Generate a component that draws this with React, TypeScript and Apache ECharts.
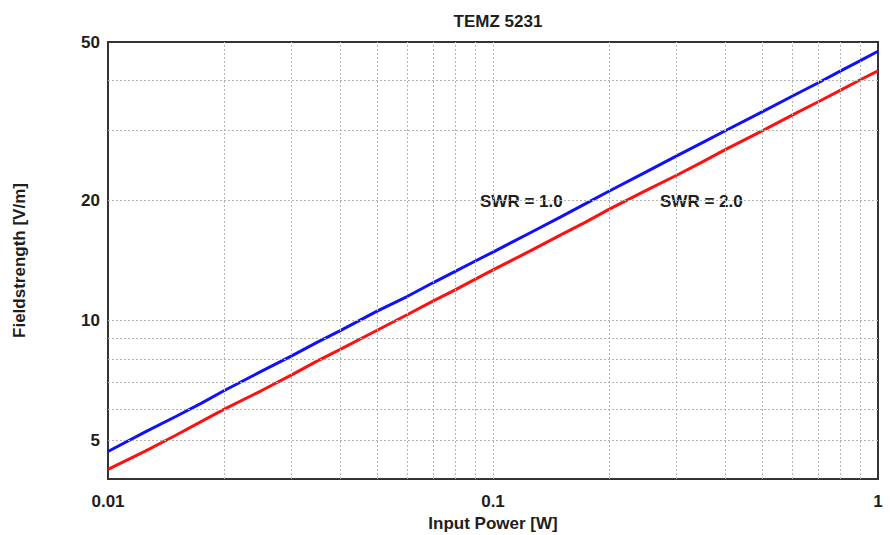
import React, { useEffect, useRef } from 'react';
import * as echarts from 'echarts';

const power = [0.01, 0.0125, 0.015, 0.0175, 0.02, 0.025, 0.03, 0.035, 0.04, 0.05, 0.06, 0.07, 0.08, 0.09, 0.1, 0.125, 0.15, 0.175, 0.2, 0.25, 0.3, 0.35, 0.4, 0.5, 0.6, 0.7, 0.8, 0.9, 1.0];
const swr10 = [4.69, 5.25, 5.74, 6.2, 6.66, 7.45, 8.15, 8.82, 9.42, 10.55, 11.5, 12.45, 13.3, 14.1, 14.85, 16.6, 18.2, 19.7, 21.1, 23.6, 25.9, 27.95, 29.9, 33.4, 36.6, 39.5, 42.3, 44.9, 47.4];
const swr20 = [4.23, 4.7, 5.15, 5.58, 5.98, 6.66, 7.3, 7.92, 8.45, 9.45, 10.35, 11.2, 11.95, 12.7, 13.4, 14.95, 16.4, 17.7, 19.0, 21.2, 23.15, 25.0, 26.8, 29.9, 32.8, 35.4, 37.85, 40.2, 42.3];
const xGridValues = [0.02, 0.03, 0.04, 0.05, 0.06, 0.07, 0.08, 0.09, 0.1, 0.2, 0.3, 0.4, 0.5, 0.6, 0.7, 0.8, 0.9];
const yGridValues = [5, 6, 7, 8, 9, 10, 20, 30, 40];
const yTickLabels = [5, 10, 20, 50];
const seriesNames = ['SWR = 1.0', 'SWR = 2.0'];

const FONT = '"Liberation Sans", Arial, sans-serif';
const TEXT = '#1e1e1e';

export default function App() {
  const ref = useRef<HTMLDivElement>(null);
  useEffect(() => {
    if (!ref.current) return;
    const chart = echarts.init(ref.current, null, { renderer: 'svg' });
    const gridStyle = { color: '#b4b4b4', type: [2, 2] as any, width: 1 };
    chart.setOption({
      animation: false,
      backgroundColor: '#ffffff',
      textStyle: { fontFamily: FONT },
      title: {
        text: 'TEMZ 5231',
        left: 493,
        textAlign: 'center',
        top: 8,
        textStyle: { fontFamily: FONT, fontSize: 17, fontWeight: 'bold', color: TEXT },
      },
      grid: {
        left: 108,
        right: 12,
        top: 42,
        bottom: 56,
        show: true,
        containLabel: false,
        outerBoundsMode: 'none',
        borderColor: '#333333',
        borderWidth: 2,
        backgroundColor: 'transparent',
      },
      xAxis: {
        type: 'log',
        logBase: 10,
        min: 0.01,
        max: 1,
        name: 'Input Power [W]',
        nameLocation: 'middle',
        nameGap: 36,
        nameTextStyle: { fontFamily: FONT, fontSize: 17, fontWeight: 'bold', color: TEXT },
        axisLine: { show: false },
        axisTick: { show: false },
        splitLine: { show: false },
        axisLabel: {
          fontFamily: FONT,
          fontSize: 17,
          fontWeight: 'bold',
          color: TEXT,
          margin: 14,
          formatter: (v: number) => String(v),
        },
      },
      yAxis: {
        type: 'log',
        logBase: 10,
        min: 4,
        max: 50,
        name: 'Fieldstrength [V/m]',
        nameLocation: 'middle',
        nameGap: 80,
        nameRotate: 90,
        nameTextStyle: { fontFamily: FONT, fontSize: 17, fontWeight: 'bold', color: TEXT },
        axisLine: { show: false },
        axisTick: { show: false },
        splitLine: { show: false },
        axisLabel: { show: false },
      },
      series: [
        {
          type: 'line',
          name: 'grid',
          silent: true,
          z: 1,
          data: [],
          markLine: {
            silent: true,
            symbol: 'none',
            animation: false,
            label: { show: false },
            lineStyle: gridStyle,
            data: [
              ...xGridValues.map((v) => ({ xAxis: v })),
              ...yGridValues.map((v) => ({ yAxis: v })),
            ],
          },
        },
        {
          type: 'line',
          name: 'labels',
          silent: true,
          z: 1,
          data: [],
          markLine: {
            silent: true,
            symbol: 'none',
            animation: false,
            lineStyle: { color: 'rgba(0,0,0,0)', width: 1 },
            label: {
              show: true,
              position: 'start',
              distance: 8,
              formatter: (p: any) => String(p.value),
              fontFamily: FONT,
              fontSize: 17,
              fontWeight: 'bold',
              color: TEXT,
            },
            data: yTickLabels.map((v) => ({ yAxis: v })),
          },
        },
        {
          type: 'line',
          name: seriesNames[0],
          z: 3,
          showSymbol: false,
          symbol: 'none',
          lineStyle: { color: '#1010ff', width: 3 },
          itemStyle: { color: '#1010ff' },
          data: power.map((p, i) => [p, swr10[i]]),
        },
        {
          type: 'line',
          name: seriesNames[1],
          z: 3,
          showSymbol: false,
          symbol: 'none',
          lineStyle: { color: '#ff1010', width: 3 },
          itemStyle: { color: '#ff1010' },
          data: power.map((p, i) => [p, swr20[i]]),
        },
      ],
      graphic: [
        {
          type: 'text',
          left: 480,
          top: 193,
          style: { text: seriesNames[0], fontFamily: FONT, fontSize: 17, fontWeight: 'bold', fill: TEXT },
        },
        {
          type: 'text',
          left: 660,
          top: 193,
          style: { text: seriesNames[1], fontFamily: FONT, fontSize: 17, fontWeight: 'bold', fill: TEXT },
        },
      ],
    });
    return () => chart.dispose();
  }, []);
  return <div ref={ref} style={{ position: 'fixed', left: 0, top: 0, width: 890, height: 535 }} />;
}
